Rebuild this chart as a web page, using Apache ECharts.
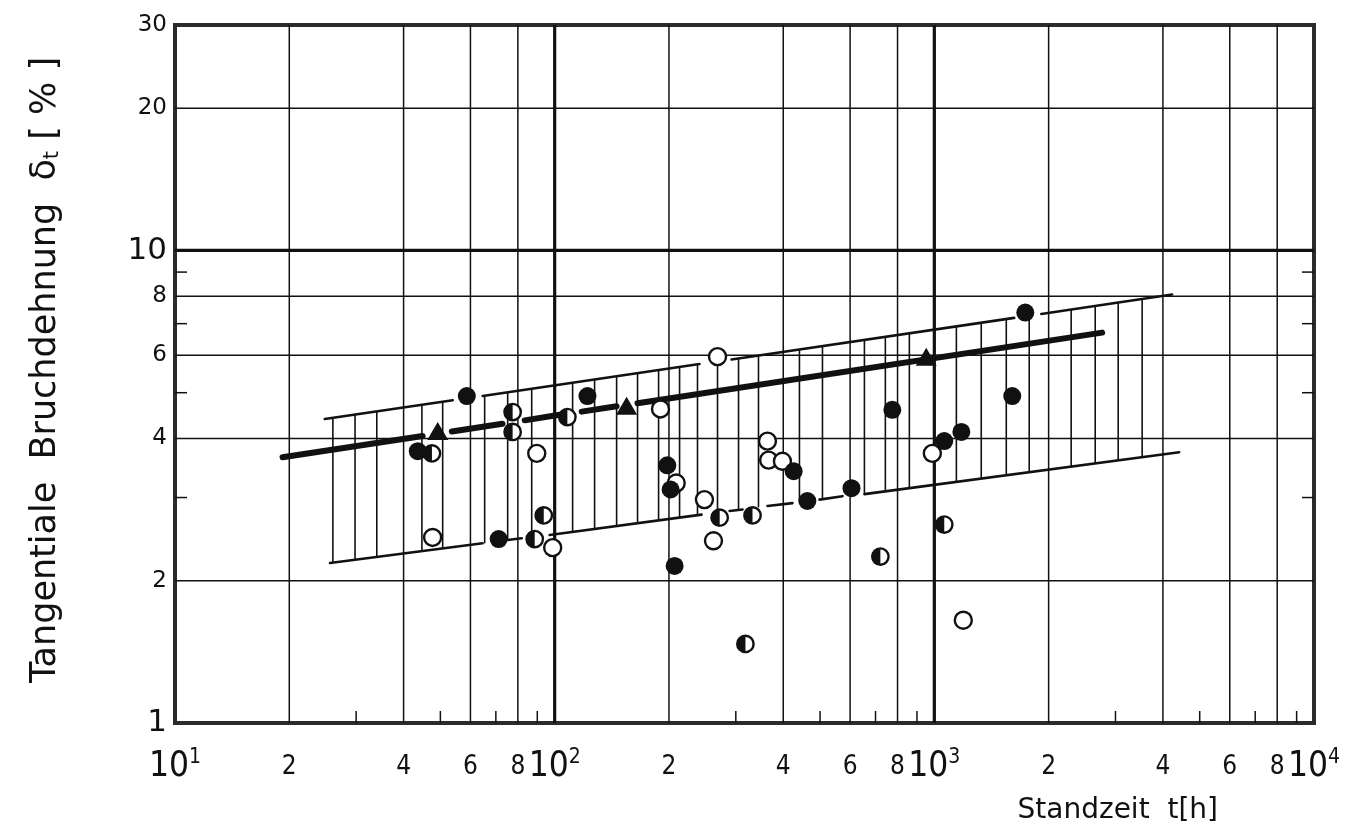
<!DOCTYPE html>
<html><head><meta charset="utf-8">
<script src="https://cdn.jsdelivr.net/npm/echarts@6/dist/echarts.min.js"></script>
<style>html,body{margin:0;padding:0;background:#fff}#c{width:1355px;height:837px}</style>
</head><body><div id="c"></div>
<script>
// ---- axis ticks / grid ----
const xTickLabels = [10,20,40,60,80,100,200,400,600,800,1000,2000,4000,6000,8000,10000];
const yTickLabels = [1,2,4,6,8,10,20,30];
const xMajorGrid = [100,1000];
const xMinorGrid = [20,40,60,80,200,400,600,800,2000,4000,6000,8000];
const xShortTicks = [30,50,70,90,300,500,700,900,3000,5000,7000,9000];
const yMajorGrid = [10];
const yMinorGrid = [2,4,6,8,20];
const yShortTicks = [3,5,7,9];

// ---- data points [Standzeit h, Bruchdehnung %] ----
const openPts = [[47.7,2.47],[89.7,3.72],[98.8,2.35],[190,4.62],[209,3.22],[248,2.97],[262,2.43],[268.5,5.96],[363.5,3.95],[366,3.60],[398,3.58],[988,3.72],[1192,1.65]];
const filledPts = [[43.6,3.76],[58.7,4.92],[71.2,2.45],[122,4.92],[198,3.51],[202,3.12],[207,2.15],[426,3.41],[463,2.95],[605,3.14],[775,4.60],[1062,3.95],[1178,4.13],[1604,4.92],[1736,7.39]];
const halfPts = [[47.5,3.72],[77.5,4.55],[77.5,4.13],[88.6,2.45],[93.6,2.75],[108,4.44],[272,2.72],[332,2.75],[318,1.47],[721,2.25],[1062,2.63]];
const trianglePts = [[49.2,4.15],[154.7,4.69],[952,5.96]];

// ---- mean line and scatter band [x1,y1,x2,y2] ----
const meanLineSegs = [[19.2,3.65,44.9,4.05],[53.6,4.14,72.9,4.30],[83.4,4.37,103,4.49],[117.8,4.56,145.6,4.68],[165.3,4.75,2767,6.70]];
const upperBandSegs = [[24.8,4.40,53.9,4.82],[64.6,4.92,240.7,5.75],[292.3,5.88,1623,7.20],[1912,7.34,4229,8.07]];
const lowerBandSegs = [[25.6,2.18,64.6,2.40],[75.2,2.44,81.9,2.46],[97.0,2.50,243.7,2.76],[288.8,2.81,312.5,2.83],[363.5,2.88,422.9,2.92],[498.2,2.97,572.8,3.02],[654.3,3.05,4414,3.74]];
// hatch lines [x, low, high]
const hatchLines = [[26.05,2.18,4.42],[29.8,2.21,4.49],[34.0,2.24,4.57],[44.7,2.31,4.71],[50.7,2.34,4.79],[65.4,2.40,4.93],[75.2,2.44,5.01],[87.0,2.47,5.10],[111.5,2.54,5.25],[127.4,2.58,5.34],[145.6,2.61,5.42],[165.3,2.65,5.50],[187.8,2.68,5.58],[213.3,2.72,5.67],[237.8,2.75,5.74],[268.5,2.79,5.83],[305,2.82,5.91],[344.2,2.86,6.00],[441.3,2.94,6.18],[507.4,2.98,6.28],[654.4,3.06,6.47],[743,3.10,6.57],[859.4,3.15,6.68],[1143,3.25,6.91],[1329,3.30,7.04],[1547,3.35,7.16],[1778,3.40,7.28],[2293,3.49,7.50],[2653,3.55,7.63],[3050,3.60,7.76],[3527,3.66,7.90]];

const INK = '#111';
const chart = echarts.init(document.getElementById('c'), null, {renderer:'canvas'});

function vLines(vals, w, z){
  return {type:'custom', z:z, silent:true, data: vals.map(v=>[v,1]), encode:{x:0,y:1},
    renderItem(p, api){ const cs=p.coordSys; const x=api.coord([api.value(0),1])[0];
      return {type:'line', shape:{x1:x,y1:cs.y,x2:x,y2:cs.y+cs.height}, style:{stroke:INK,lineWidth:w}}; }};
}
function hLines(vals, w, z){
  return {type:'custom', z:z, silent:true, data: vals.map(v=>[10,v]), encode:{x:0,y:1},
    renderItem(p, api){ const cs=p.coordSys; const y=api.coord([10,api.value(1)])[1];
      return {type:'line', shape:{x1:cs.x,y1:y,x2:cs.x+cs.width,y2:y}, style:{stroke:INK,lineWidth:w}}; }};
}
function xTicks(vals){
  return {type:'custom', z:2, silent:true, data: vals.map(v=>[v,1]), encode:{x:0,y:1},
    renderItem(p, api){ const cs=p.coordSys; const x=api.coord([api.value(0),1])[0]; const b=cs.y+cs.height;
      return {type:'line', shape:{x1:x,y1:b,x2:x,y2:b-12}, style:{stroke:INK,lineWidth:1.5}}; }};
}
function yTicks(vals){
  return {type:'custom', z:2, silent:true, data: vals.map(v=>[10,v]), encode:{x:0,y:1},
    renderItem(p, api){ const cs=p.coordSys; const y=api.coord([10,api.value(1)])[1];
      return {type:'group', children:[
        {type:'line', shape:{x1:cs.x,y1:y,x2:cs.x+12,y2:y}, style:{stroke:INK,lineWidth:1.5}},
        {type:'line', shape:{x1:cs.x+cs.width-12,y1:y,x2:cs.x+cs.width,y2:y}, style:{stroke:INK,lineWidth:1.5}}]}; }};
}
function segs(data, w, z){
  return {type:'custom', z:z, silent:true, data:data, encode:{x:[0,2],y:[1,3]},
    renderItem(p, api){ const a=api.coord([api.value(0),api.value(1)]); const b=api.coord([api.value(2),api.value(3)]);
      return {type:'line', shape:{x1:a[0],y1:a[1],x2:b[0],y2:b[1]}, style:{stroke:INK,lineWidth:w,lineCap:'round'}}; }};
}
const NARROW = "'Liberation Sans Narrow','DejaVu Sans Condensed','DejaVu Sans',sans-serif";

const option = {
  backgroundColor:'#fff',
  animation:false,
  grid:{left:175, right:41, top:25, bottom:114, show:true, borderColor:'#2b2b2b', borderWidth:4, backgroundColor:'transparent'},
  xAxis:{type:'log', logBase:10, min:10, max:10000,
    axisLine:{show:false}, axisTick:{show:false}, splitLine:{show:false},
    axisLabel:{customValues:xTickLabels, margin:24, color:INK, fontFamily:NARROW,
      formatter(v){ const e=Math.round(Math.log10(v)); if (Math.abs(v-Math.pow(10,e))<1e-6*v) return '{b|10}{s|'+e+'}';
        const d=Math.pow(10,Math.floor(Math.log10(v)+1e-9)); return '{m|'+Math.round(v/d)+'}'; },
      rich:{ b:{fontSize:35, lineHeight:40, color:INK, fontFamily:NARROW},
             s:{fontSize:21, lineHeight:40, verticalAlign:'top', color:INK, fontFamily:NARROW},
             m:{fontSize:26, lineHeight:40, color:INK, fontFamily:NARROW} }},
    name:'Standzeit  t[h]', nameLocation:'end', nameGap:-96,
    nameTextStyle:{fontSize:28, color:INK, fontFamily:"'DejaVu Sans',sans-serif", align:'right', verticalAlign:'top', padding:[74,0,0,0]}
  },
  yAxis:{type:'log', logBase:10, min:1, max:30,
    axisLine:{show:false}, axisTick:{show:false}, splitLine:{show:false},
    axisLabel:{customValues:yTickLabels, margin:8, color:INK,
      formatter(v){ return (v===1||v===10) ? '{L|'+v+'}' : '{m|'+v+'}'; },
      rich:{ L:{fontSize:31, color:INK, fontFamily:"'DejaVu Sans',sans-serif"},
             m:{fontSize:23, color:INK, fontFamily:"'DejaVu Sans',sans-serif"} }},
    name:'{n|Tangentiale  Bruchdehnung  δ}{sub|t}{n| [ % ]}', nameLocation:'middle', nameGap:112, nameRotate:90,
    nameTextStyle:{padding:[0,0,0,8], rich:{ n:{fontSize:35, color:INK, fontFamily:"'DejaVu Sans',sans-serif"},
                          sub:{fontSize:21, color:INK, verticalAlign:'bottom', fontFamily:"'DejaVu Sans',sans-serif"} }}
  },
  series:[
    vLines(xMinorGrid, 1.5, 1), hLines(yMinorGrid, 1.5, 1),
    vLines(xMajorGrid, 3.2, 1), hLines(yMajorGrid, 3.2, 1),
    xTicks(xShortTicks), yTicks(yShortTicks),
    {type:'custom', z:3, silent:true, data:hatchLines, encode:{x:0,y:[1,2]},
      renderItem(p, api){ const a=api.coord([api.value(0),api.value(1)]); const b=api.coord([api.value(0),api.value(2)]);
        return {type:'line', shape:{x1:a[0],y1:a[1],x2:b[0],y2:b[1]}, style:{stroke:INK,lineWidth:1.6}}; }},
    segs(upperBandSegs, 2.6, 4), segs(lowerBandSegs, 2.6, 4), segs(meanLineSegs, 6, 5),
    {type:'scatter', z:6, data:openPts, symbol:'circle', symbolSize:17, itemStyle:{color:'#fff', borderColor:INK, borderWidth:2.4, opacity:1}},
    {type:'scatter', z:7, data:filledPts, symbol:'circle', symbolSize:18, itemStyle:{color:INK, opacity:1}},
    {type:'custom', z:8, data:halfPts, encode:{x:0,y:1},
      renderItem(p, api){ const c=api.coord([api.value(0),api.value(1)]); const r=8.2;
        return {type:'group', children:[
          {type:'circle', shape:{cx:c[0],cy:c[1],r:r}, style:{fill:'#fff', stroke:INK, lineWidth:2.4}},
          {type:'sector', shape:{cx:c[0],cy:c[1],r0:0,r:r,startAngle:Math.PI/2,endAngle:Math.PI*1.5,clockwise:true}, style:{fill:INK}}]}; }},
    {type:'scatter', z:9, data:trianglePts, symbol:'triangle', symbolSize:[21,18], itemStyle:{color:INK, opacity:1}}
  ]
};
chart.setOption(option);
</script></body></html>
